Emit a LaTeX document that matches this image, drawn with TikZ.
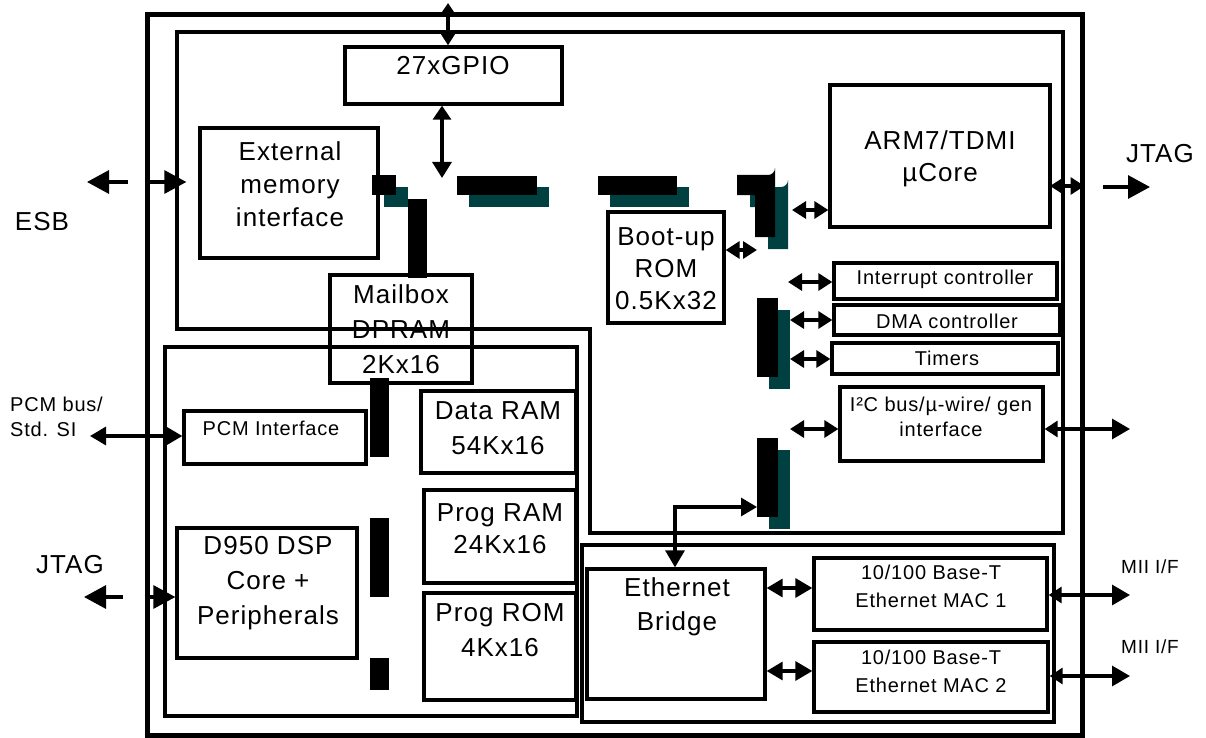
\documentclass[tikz,border=0pt]{standalone}
\usepackage{fontspec}
\setmainfont{Liberation Sans}[LetterSpace=4]
\usetikzlibrary{arrows.meta,fit}
\definecolor{shade}{RGB}{0,64,64}
\begin{document}
\begin{tikzpicture}[x=1pt,y=-1pt,
  box/.style={draw,line width=3.3pt,inner sep=0pt},
  big/.style={font=\fontsize{26}{34}\selectfont,align=center,inner sep=0pt},
  sm/.style={font=\fontsize{20}{28}\selectfont,align=center,inner sep=0pt},
  conn/.style={line width=3.2pt},
  ext/.style={conn,-{Triangle[length=22pt,width=23pt]}},
  dbl/.style={conn,{Triangle[length=14pt,width=17pt]}-{Triangle[length=14pt,width=17pt]}},
  med/.style={conn,{Triangle[length=16pt,width=18pt]}-{Triangle[length=17pt,width=19pt]}},
  busbar/.style={fill=black},
  busshade/.style={fill=shade}
]
\useasboundingbox (0,0) rectangle (1206,738);

% domains
\node[box,line width=5pt,fit={(147,15)(1082,735)}] (chip) {};
\draw[line width=3.3pt] (177,32) -- (1063,32) -- (1063,533) -- (590,533) -- (590,329) -- (177,329) -- cycle;
\node[box,fit={(165,347)(577,716)}] (dspdom) {};
\node[box,fit={(582,545)(1054,722)}] (ethdom) {};

% blocks
\node[box,fit={(345,47)(562,104)}] (gpio) {};
\node[box,fit={(200,128)(378,258)}] (emi) {};
\node[box,fit={(830,85)(1050,227)}] (arm) {};
\node[box,fit={(608,212)(724,323)}] (rom) {};
\node[box,fit={(834,263)(1057,299)}] (intc) {};
\node[box,fit={(834,305)(1060,335)}] (dma) {};
\node[box,fit={(832,343)(1058,374)}] (tmr) {};
\node[box,fit={(840,387)(1043,461)}] (i2c) {};
\node[box,fit={(330,275)(472,383)}] (mbx) {};
\node[box,fit={(184,411)(366,464)}] (pcm) {};
\node[box,fit={(421,391)(576,473)}] (dram) {};
\node[box,fit={(424,490)(576,583)}] (pram) {};
\node[box,fit={(424,593)(576,700)}] (prom) {};
\node[box,fit={(177,528)(357,658)}] (dsp) {};
\node[box,fit={(587,569)(765,699)}] (brg) {};
\node[box,fit={(814,558)(1047,630)}] (mac1) {};
\node[box,fit={(814,642)(1048,712)}] (mac2) {};

% texts
\node[big] (t-gpio) at (453,66) {27xGPIO};
\node[big,font=\fontsize{26}{33}\selectfont] (t-emi) at (290,184) {External\\memory\\interface};
\node[big,font=\fontsize{26}{32}\selectfont] (t-arm) at (940,159) {ARM7/TDMI\\µCore};
\node[big,font=\fontsize{26}{32}\selectfont] (t-rom) at (666,269) {Boot-up\\ROM\\0.5Kx32};
\node[big,font=\fontsize{26}{35}\selectfont] (t-mbx) at (401,329) {Mailbox\\DPRAM\\2Kx16};
\node[big,font=\fontsize{26}{35}\selectfont] (t-dram) at (498,428) {Data RAM\\54Kx16};
\node[big,font=\fontsize{26}{32}\selectfont] (t-pram) at (500,529) {Prog RAM\\24Kx16};
\node[big,font=\fontsize{26}{35}\selectfont] (t-prom) at (500,630) {Prog ROM\\4Kx16};
\node[sm] (t-pcm) at (271,428) {PCM Interface};
\node[big,font=\fontsize{26}{35}\selectfont] (t-dsp) at (268,583) {D950 DSP\\Core +\\Peripherals};
\node[big,font=\fontsize{26}{34}\selectfont] (t-brg) at (677,607) {Ethernet\\Bridge};
\node[sm] (t-mac1) at (931,586) {10/100 Base-T\\Ethernet MAC 1};
\node[sm] (t-mac2) at (931,671) {10/100 Base-T\\Ethernet MAC 2};
\node[sm] (t-intc) at (945,279) {Interrupt controller};
\node[sm] (t-dma) at (947,321) {DMA controller};
\node[sm] (t-tmr) at (947,358) {Timers};
\node[sm,font=\fontsize{20}{25}\selectfont] (t-i2c) at (941,417) {I²C bus/µ-wire/ gen\\interface};

\node[big] (esb) at (42,222) {ESB};
\node[big] (jtagR) at (1160,154) {JTAG};
\node[big] (jtagL) at (70,565) {JTAG};
\node[sm,align=left,anchor=west,font=\fontsize{20}{25}\selectfont] (pcmlab) at (10,417) {PCM bus/\\Std. SI};
\node[sm,font=\fontsize{19}{24}\selectfont] (mii1) at (1150,567) {MII I/F};
\node[sm,font=\fontsize{19}{24}\selectfont] (mii2) at (1150,647) {MII I/F};

% bus bars: shadows
\fill[busshade] (384,187) rectangle (408,207);
\fill[busshade] (469,187) rectangle (549,207);
\fill[busshade] (610,187) rectangle (689,207);
\fill[busshade] (750,187) -- (781,187) arc[start angle=90,end angle=0,radius=7] -- (788,249) -- (768,249) -- (768,207) -- (750,207) -- cycle;
\fill[busshade] (769,310) rectangle (790,389);
\fill[busshade] (769,450) rectangle (790,529);
% bus bars: black
\fill[busbar] (372,175) rectangle (396,195);
\fill[busbar] (408,199) rectangle (427,278);
\fill[busbar] (457,176) rectangle (537,195);
\fill[busbar] (598,176) rectangle (677,195);
\fill[busbar] (737,175) -- (768,175) arc[start angle=90,end angle=0,radius=7] -- (775,237) -- (755,237) -- (755,195) -- (737,195) -- cycle;
\fill[busbar] (757,298) rectangle (778,377);
\fill[busbar] (757,438) rectangle (778,517);
\fill[busbar] (370,378) rectangle (389,457);
\fill[busbar] (370,518) rectangle (389,597);
\fill[busbar] (370,658) rectangle (389,690);

% free ends
\coordinate (gtop) at (448,3);
\coordinate (gbus) at (442,178);
\coordinate (esbA) at (128,182);
\coordinate (esbB) at (87,182);
\coordinate (jr) at (1050,186);
\coordinate (jrA) at (1103,187);
\coordinate (jrB) at (1150,187);
\coordinate (armbus) at (792,210);
\coordinate (rombus) at (757,250);
\coordinate (intbus) at (788,282);
\coordinate (dmabus) at (790,320);
\coordinate (tmrbus) at (790,359);
\coordinate (i2cbus) at (790,429);
\coordinate (i2cout) at (1130,429);
\coordinate (ethbus) at (757,507);
\coordinate (ethcorner) at (675,507);
\coordinate (m1) at (765,588);
\coordinate (m2) at (765,671);
\coordinate (mii1out) at (1130,595);
\coordinate (mii2out) at (1130,676);
\coordinate (pcmout) at (90,436);
\coordinate (jlA) at (123,597);
\coordinate (jlB) at (84,597);

% connectors
\draw[conn,{Triangle[length=12pt,width=15pt]}-{Triangle[length=15pt,width=18pt]}] (gtop) -- (gtop |- gpio.north);
\draw[conn,{Triangle[length=14pt,width=18pt]}-{Triangle[length=16pt,width=19pt]}] (gpio.south -| gbus) -- (gbus);
\draw[ext] (esbA) -- (esbB);
\draw[ext,shorten >=12pt] (chip.west |- esbA) -- (emi.west |- esbA);
\draw[dbl] (jr) -- (chip.east |- jr);
\draw[ext] (jrA) -- (jrB);
\draw[dbl] (armbus) -- (arm.west |- armbus);
\draw[dbl] (rom.east |- rombus) -- (rombus);
\draw[dbl] (intbus) -- (intc.west |- intbus);
\draw[dbl] (dmabus) -- (dma.west |- dmabus);
\draw[dbl] (tmrbus) -- (tmr.west |- tmrbus);
\draw[dbl] (i2cbus) -- (i2c.west |- i2cbus);
\draw[conn,{Triangle[length=13pt,width=16pt]}-{Triangle[length=18pt,width=20pt]}] (i2c.east |- i2cbus) -- (i2cout);
\draw[med] (ethbus) -- (ethcorner) -- (brg.north -| ethcorner);
\draw[med] (brg.east |- m1) -- (mac1.west |- m1);
\draw[med] (brg.east |- m2) -- (mac2.west |- m2);
\draw[conn,{Triangle[length=13pt,width=16pt]}-{Triangle[length=18pt,width=20pt]}] (mac1.east |- mii1out) -- (mii1out);
\draw[conn,{Triangle[length=13pt,width=16pt]}-{Triangle[length=18pt,width=20pt]}] (mac2.east |- mii2out) -- (mii2out);
\draw[med] (pcmout) -- (pcm.west |- pcmout);
\draw[ext] (jlA) -- (jlB);
\draw[ext] (chip.west |- jlA) -- (dsp.west |- jlA);
\end{tikzpicture}
\end{document}
